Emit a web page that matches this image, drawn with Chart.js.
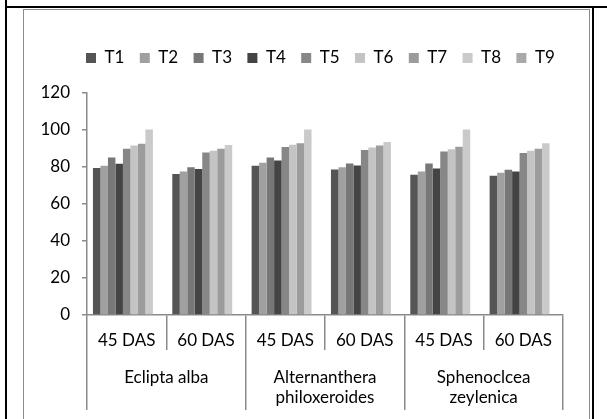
<!DOCTYPE html>
<html>
<head>
<meta charset="utf-8">
<script src="https://cdn.jsdelivr.net/npm/chart.js@4/dist/chart.umd.min.js"></script>
<style>
  html, body { margin: 0; padding: 0; background: #fff; }
  #wrap { position: relative; width: 607px; height: 419px; overflow: hidden; }
  #cv { position: absolute; left: 0; top: 0; }
  .outer { position: absolute; left: 5px; top: 6px; width: 585px; height: 430px;
           border-left: 2px solid #000; border-right: 2px solid #000; border-top: 2px solid #000; }
  .topline { position: absolute; left: 590px; top: 6px; width: 20px; height: 2px; background: #000; }
  .upline { position: absolute; left: 5px; top: 0; width: 2px; height: 8px; background: #000; }
  .inner { position: absolute; left: 23px; top: 9px; width: 565px; height: 430px;
           border-left: 1.5px solid #8c8c8c; border-right: 1.5px solid #8c8c8c; border-top: 1.5px solid #8c8c8c; }
</style>
</head>
<body>
<div id="wrap">
  <canvas id="cv" width="607" height="419"></canvas>
  <div class="outer"></div>
  <div class="topline"></div>
  <div class="upline"></div>
  <div class="inner"></div>
</div>
<script>
  // カテゴリ
  const dasLabels = ['45 DAS', '60 DAS', '45 DAS', '60 DAS', '45 DAS', '60 DAS'];
  const speciesLabels = [['Eclipta alba'], ['Alternanthera', 'philoxeroides'], ['Sphenoclcea', 'zeylenica']];
  const yTicks = [0, 20, 40, 60, 80, 100, 120];

  // 系列 (T9 は値なし)
  const T1 = [79.3, 76.0, 80.5, 78.5, 75.6, 75.1];
  const T2 = [80.5, 77.4, 82.1, 79.6, 77.4, 76.7];
  const T3 = [84.9, 79.7, 84.9, 81.7, 81.7, 78.3];
  const T4 = [81.6, 78.7, 83.3, 80.6, 79.0, 77.4];
  const T5 = [89.6, 87.6, 90.5, 88.9, 88.2, 87.3];
  const T6 = [91.4, 88.5, 91.8, 90.3, 89.4, 88.5];
  const T7 = [92.3, 89.6, 92.6, 91.4, 90.7, 89.6];
  const T8 = [100, 91.6, 100, 93.2, 100, 92.6];
  const T9 = [null, null, null, null, null, null];

  const seriesNames = ['T1', 'T2', 'T3', 'T4', 'T5', 'T6', 'T7', 'T8', 'T9'];
  const seriesData = [T1, T2, T3, T4, T5, T6, T7, T8, T9];
  const colors = ['#555555', '#a0a0a0', '#777777', '#444444', '#878787', '#c4c4c4', '#9c9c9c', '#cacaca', '#a9a9a9'];

  Chart.defaults.font.family = 'Lato';
  Chart.defaults.font.size = 17;
  Chart.defaults.color = '#000';

  const axisGrey = '#8a8a8a';

  // 凡例: 下に余白を足し、少し右へずらす
  const legendTweak = {
    id: 'legendTweak',
    beforeLayout(chart) {
      const lg = chart.legend;
      if (!lg || lg._gapped) return;
      const fit = lg.fit;
      lg.fit = function () { fit.call(this); this.height += 16; };
      lg._gapped = true;
    },
    afterLayout(chart) {
      const lg = chart.legend;
      if (!lg) return;
      lg.left += 30.6;
      lg.right += 30.6;
    }
  };

  new Chart(document.getElementById('cv'), {
    type: 'bar',
    data: {
      labels: dasLabels,
      datasets: seriesNames.map((n, i) => ({
        label: n,
        data: seriesData[i],
        backgroundColor: colors[i],
        borderWidth: 0,
        categoryPercentage: 0.85,
        barPercentage: 1.0
      }))
    },
    options: {
      responsive: false,
      animation: false,
      layout: { padding: { left: 40, right: 8, top: 34, bottom: 9 } },
      plugins: {
        legend: {
          position: 'top',
          align: 'start',
          labels: { boxWidth: 10, boxHeight: 10, padding: 15.4, font: { size: 17 } }
        },
        tooltip: { enabled: false }
      },
      scales: {
        x: {
          offset: true,
          grid: { offset: true, drawOnChartArea: false, tickLength: 35, color: axisGrey, lineWidth: 1.5 },
          border: { color: axisGrey, width: 1.5 },
          ticks: { padding: -20, maxRotation: 0, autoSkip: false },
          afterFit: (s) => { s.height = 35; }
        },
        x2: {
          type: 'category',
          labels: speciesLabels,
          position: 'bottom',
          offset: true,
          grid: { offset: true, drawOnChartArea: false, tickLength: 60, color: axisGrey, lineWidth: 1.5 },
          border: { display: false },
          ticks: { padding: -43, maxRotation: 0, autoSkip: false },
          afterFit: (s) => { s.height = 60; }
        },
        y: {
          min: yTicks[0],
          max: yTicks[yTicks.length - 1],
          grid: { drawOnChartArea: false, tickLength: 5, color: axisGrey, lineWidth: 1.5 },
          border: { color: axisGrey, width: 1.5 },
          ticks: {
            stepSize: 20,
            padding: 12,
            autoSkip: false,
            callback: (v) => yTicks.includes(v) ? String(v) : ''
          },
          afterFit: (s) => { s.width = 47; }
        },
        yR: {
          type: 'linear',
          position: 'right',
          grid: { display: false },
          border: { display: false },
          ticks: { display: false },
          afterFit: (s) => { s.width = 36; }
        }
      }
    },
    plugins: [legendTweak]
  });
</script>
</body>
</html>
